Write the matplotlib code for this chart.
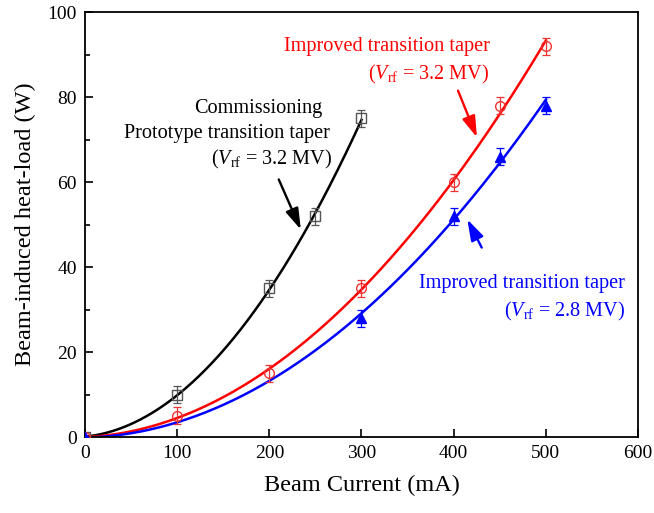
import numpy as np
import matplotlib
matplotlib.use('Agg')
import matplotlib.pyplot as plt

plt.rcParams['font.family'] = 'Liberation Serif'
plt.rcParams['mathtext.fontset'] = 'custom'
plt.rcParams['mathtext.rm'] = 'Liberation Serif'
plt.rcParams['mathtext.it'] = 'Liberation Serif:italic'

# measured heat-load data (W) vs beam current (mA)
x_proto = [0, 100, 200, 250, 300]
y_proto = [0, 10, 35, 52, 75]
err_proto = [0, 2, 2, 2, 2]

x_imp32 = [0, 100, 200, 300, 400, 450, 500]
y_imp32 = [0, 5, 15, 35, 60, 78, 92]
err_imp32 = [0, 2, 2, 2, 2, 2, 2]

x_imp28 = [0, 300, 400, 450, 500]
y_imp28 = [0, 28, 52, 66, 78]
err_imp28 = [0, 2, 2, 2, 2]

fig = plt.figure(figsize=(6.54, 5.13), dpi=100)
ax = fig.add_axes([0.130, 0.148, 0.8455, 0.8286])

# quadratic fits to each data set
for xs, ys, xmax, col in [(x_proto, y_proto, 300, 'black'),
                          (x_imp32, y_imp32, 500, 'red'),
                          (x_imp28, y_imp28, 500, 'blue')]:
    c = np.polyfit(xs, ys, 2)
    xx = np.linspace(0, xmax, 200)
    ax.plot(xx, np.polyval(c, xx), color=col, lw=1.8, zorder=2)

ax.errorbar(x_proto, y_proto, yerr=err_proto, fmt='s', ms=6.5, mfc='none',
            mec='#555555', ecolor='#555555', elinewidth=0.9, capsize=3,
            capthick=0.9, zorder=3)
ax.errorbar(x_imp32, y_imp32, yerr=err_imp32, fmt='o', ms=7, mfc='none',
            mec='#ee3333', ecolor='#ee3333', elinewidth=0.9, capsize=3,
            capthick=0.9, zorder=3)
ax.errorbar(x_imp28, y_imp28, yerr=err_imp28, fmt='^', ms=7.5, mfc='blue',
            mec='blue', ecolor='blue', elinewidth=0.9, capsize=3,
            capthick=0.9, zorder=3)

ax.set_xlim(0, 600)
ax.set_ylim(0, 100)
ax.set_xticks(range(0, 601, 100))
ax.set_yticks(range(0, 101, 20))
ax.set_yticks(range(10, 100, 20), minor=True)
ax.tick_params(which='both', direction='in', labelsize=14, width=1.2)
ax.tick_params(which='major', length=6, pad=6)
ax.tick_params(which='minor', length=3.5)
for s in ax.spines.values():
    s.set_linewidth(1.3)

ax.set_xlabel('Beam Current (mA)', fontsize=17.5, labelpad=9)
ax.set_ylabel('Beam-induced heat-load (W)', fontsize=17.5, labelpad=8)

fs = 14.6
vlab = r'($\mathit{V}_{\mathrm{rf}}$ = %s MV)'
arrow = dict(arrowstyle='-|>,head_length=0.8,head_width=0.25', lw=1.7,
             mutation_scale=16)
# black annotation
ax.text(258, 77.4, 'Commissioning', fontsize=fs, ha='right', va='center')
ax.text(266, 71.5, 'Prototype transition taper', fontsize=fs, ha='right',
        va='center')
ax.text(269, 65.2, vlab % '3.2', fontsize=fs, ha='right', va='center')
ax.annotate('', xy=(235.4, 48.2), xytext=(209, 61.2),
            arrowprops=dict(color='black', **arrow))

# red annotation
ax.text(439, 91.8, 'Improved transition taper', fontsize=fs, ha='right',
        va='center', color='red')
ax.text(439, 85.4, vlab % '3.2', fontsize=fs, ha='right', va='center',
        color='red')
ax.annotate('', xy=(426.4, 69.9), xytext=(403.6, 82.1),
            arrowprops=dict(color='red', **arrow))

# blue annotation
ax.text(586, 36.2, 'Improved transition taper', fontsize=fs, ha='right',
        va='center', color='blue')
ax.text(586, 29.6, vlab % '2.8', fontsize=fs, ha='right', va='center',
        color='blue')
ax.annotate('', xy=(413.4, 51.8), xytext=(431.8, 44),
            arrowprops=dict(color='blue', **arrow))

fig.savefig('out.png', dpi=100)
